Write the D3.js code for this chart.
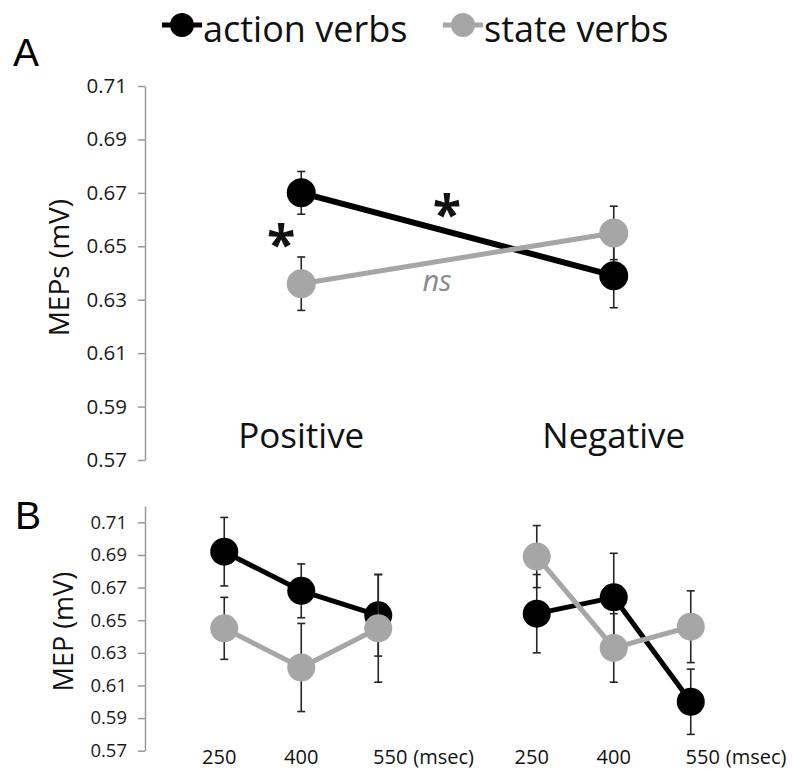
<!DOCTYPE html>
<html>
<head>
<meta charset="utf-8">
<script src="https://cdn.jsdelivr.net/npm/d3@7/dist/d3.min.js"></script>
<style>
  html, body { margin: 0; padding: 0; background: #fff; }
  svg { display: block; }
  text { font-family: "Open Sans", "Noto Sans", sans-serif; }
</style>
</head>
<body>
<svg id="chart" width="792" height="771"></svg>
<script>
// ---- data ----
const seriesNames = ["action verbs", "state verbs"];
const valence = ["Positive", "Negative"];
const delays = [250, 400, 550];

// Panel A: mean MEPs by valence
const actionA = [0.670, 0.639];
const actionAErr = [0.008, 0.012];
const stateA = [0.636, 0.655];
const stateAErr = [0.010, 0.010];

// Panel B: MEP by delay (msec), one triple per valence
const actionBPos = [0.692, 0.668, 0.653];
const actionBNeg = [0.654, 0.664, 0.600];
const actionBPosErr = [0.021, 0.0165, 0.025];
const actionBNegErr = [0.024, 0.027, 0.020];
const stateBPos = [0.645, 0.621, 0.645];
const stateBNeg = [0.689, 0.633, 0.646];
const stateBPosErr = [0.019, 0.027, 0.033];
const stateBNegErr = [0.019, 0.021, 0.022];

const ticksA = [0.57, 0.59, 0.61, 0.63, 0.65, 0.67, 0.69, 0.71];
const ticksB = [0.57, 0.59, 0.61, 0.63, 0.65, 0.67, 0.69, 0.71];

// ---- styling ----
const colors = { "action verbs": "#000000", "state verbs": "#a6a6a6" };
const axisColor = "#9a9a9a";
const fmt = d3.format(".2f");

const svg = d3.select("#chart");

// shared horizontal layout
const axisX = 145;
const xGroup = d3.scaleBand().domain(valence).range([axisX, 770]);
const groupCenter = g => xGroup(g) + xGroup.bandwidth() / 2;
const xDelay = d3.scalePoint().domain(delays).range([-77, 77]);

// ---- legend ----
const legend = svg.append("g");
const legendItems = [
  { name: seriesNames[0], x: 162 },
  { name: seriesNames[1], x: 443 }
];
legendItems.forEach(it => {
  const g = legend.append("g").attr("transform", `translate(${it.x},25)`);
  g.append("line").attr("x1", 0).attr("x2", 40).attr("y1", 0).attr("y2", 0)
    .attr("stroke", colors[it.name]).attr("stroke-width", 5);
  g.append("circle").attr("cx", 20).attr("cy", 0).attr("r", 12).attr("fill", colors[it.name]);
  g.append("text").attr("x", 41).attr("y", 17).attr("font-size", 36)
    .attr("fill", "#111").text(it.name);
});

// panel letters
svg.append("text").attr("x", 13).attr("y", 66).attr("font-size", 39)
  .style("font-family", "'Liberation Sans', Arial, sans-serif").text("A");
svg.append("text").attr("x", 15).attr("y", 529).attr("font-size", 39)
  .style("font-family", "'Liberation Sans', Arial, sans-serif").text("B");

function drawAxis(y, ticks, fontSize) {
  const ax = svg.append("g").attr("transform", `translate(${axisX},0)`)
    .call(d3.axisLeft(y).tickValues(ticks).tickFormat(fmt).tickSize(7).tickSizeOuter(0).tickPadding(11));
  ax.select(".domain").attr("stroke", axisColor).attr("stroke-width", 1.5);
  ax.selectAll(".tick line").attr("stroke", axisColor).attr("stroke-width", 1.5);
  ax.selectAll(".tick text").attr("font-size", fontSize).attr("fill", "#1a1a1a")
    .style("font-family", "'Open Sans', sans-serif");
  return ax;
}

function drawSeries(g, pts, color, lineW, r) {
  const line = d3.line().x(d => d.x).y(d => d.y);
  g.append("path").datum(pts).attr("d", line).attr("fill", "none")
    .attr("stroke", color).attr("stroke-width", lineW).attr("stroke-linejoin", "round");
  const eb = g.append("g").attr("stroke", "#262626").attr("stroke-width", 1.6);
  pts.forEach(p => {
    eb.append("line").attr("x1", p.x).attr("x2", p.x).attr("y1", p.yHi).attr("y2", p.yLo);
    eb.append("line").attr("x1", p.x - 4).attr("x2", p.x + 4).attr("y1", p.yHi).attr("y2", p.yHi);
    eb.append("line").attr("x1", p.x - 4).attr("x2", p.x + 4).attr("y1", p.yLo).attr("y2", p.yLo);
  });
  g.selectAll(null).data(pts).enter().append("circle")
    .attr("cx", d => d.x).attr("cy", d => d.y).attr("r", r).attr("fill", color);
}

// ---- Panel A ----
const yA = d3.scaleLinear().domain([0.57, 0.71]).range([460, 86]);
drawAxis(yA, ticksA, 20.5);
svg.append("text").attr("transform", `translate(69,${yA(0.642)}) rotate(-90)`)
  .attr("text-anchor", "middle").attr("font-size", 28).attr("fill", "#111").text("MEPs (mV)");

const panelA = svg.append("g");
[[seriesNames[0], actionA, actionAErr, 6], [seriesNames[1], stateA, stateAErr, 5]].forEach(([name, vals, errs, w]) => {
  const pts = valence.map((v, i) => ({
    x: groupCenter(v), y: yA(vals[i]), yHi: yA(vals[i] + errs[i]), yLo: yA(vals[i] - errs[i])
  }));
  drawSeries(panelA.append("g"), pts, colors[name], w, 14.5);
});

// valence labels
valence.forEach(v => {
  svg.append("text").attr("x", groupCenter(v)).attr("y", 448).attr("text-anchor", "middle")
    .attr("font-size", 35).attr("fill", "#111").text(v);
});

// significance marks
svg.append("text").attr("x", groupCenter("Positive") - 20).attr("y", 263)
  .attr("text-anchor", "middle").attr("font-size", 52).attr("font-weight", "bold").attr("fill", "#111").text("*");
svg.append("text").attr("x", 447).attr("y", 233)
  .attr("text-anchor", "middle").attr("font-size", 52).attr("font-weight", "bold").attr("fill", "#111").text("*");
svg.append("text").attr("x", 437).attr("y", 291)
  .attr("text-anchor", "middle").attr("font-size", 29).attr("font-style", "italic").attr("fill", "#8a8a8a").text("ns");

// ---- Panel B ----
const yB = d3.scaleLinear().domain([0.57, 0.72]).range([750.7, 506]);
drawAxis(yB, ticksB, 18.5);
svg.append("text").attr("transform", `translate(73,${yB(0.643)}) rotate(-90)`)
  .attr("text-anchor", "middle").attr("font-size", 27).attr("fill", "#111").text("MEP (mV)");

const panelB = svg.append("g");
const bSets = [
  [seriesNames[0], { Positive: [actionBPos, actionBPosErr], Negative: [actionBNeg, actionBNegErr] }, 5],
  [seriesNames[1], { Positive: [stateBPos, stateBPosErr], Negative: [stateBNeg, stateBNegErr] }, 5]
];
bSets.forEach(([name, byValence, w]) => {
  const sg = panelB.append("g");
  valence.forEach(v => {
    const [vals, errs] = byValence[v];
    const pts = delays.map((t, i) => ({
      x: groupCenter(v) + xDelay(t), y: yB(vals[i]),
      yHi: yB(vals[i] + errs[i]), yLo: yB(vals[i] - errs[i])
    }));
    drawSeries(sg.append("g"), pts, colors[name], w, 14);
  });
});

// delay labels
const labelShift = [-5, 0, 12];
valence.forEach(v => {
  delays.forEach((t, i) => {
    const x = groupCenter(v) + xDelay(t) + labelShift[i];
    svg.append("text").attr("x", x).attr("y", 764).attr("text-anchor", "middle")
      .attr("font-size", 20).attr("fill", "#111").text(t);
    if (i === delays.length - 1) {
      svg.append("text").attr("x", x + 23).attr("y", 764)
        .attr("font-size", 20).attr("fill", "#111").text("(msec)");
    }
  });
});
</script>
</body>
</html>
